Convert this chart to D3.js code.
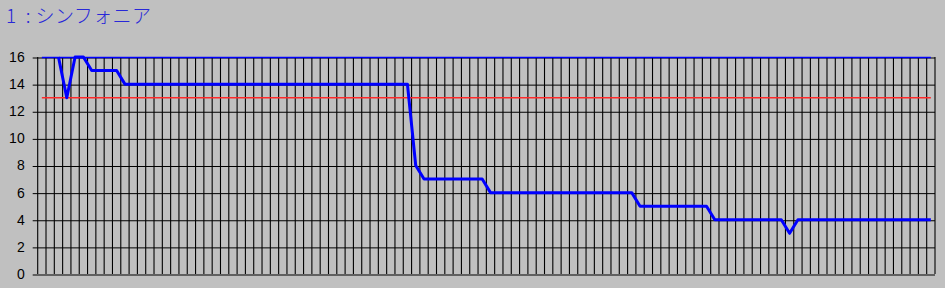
<!DOCTYPE html>
<html>
<head>
<meta charset="utf-8">
<script src="https://cdn.jsdelivr.net/npm/d3@7"></script>
<style>
  html, body { margin: 0; padding: 0; background: #c0c0c0; }
  #chart { width: 945px; height: 288px; }
</style>
</head>
<body>
<div id="chart"></div>
<script>
const width = 945;
const height = 288;

// dados
const title = "1 : シンフォニア";
const values = [
  null, null, 16, 13, 16, 16, 15, 15, 15, 15,
  14, 14, 14, 14, 14, 14, 14, 14, 14, 14,
  14, 14, 14, 14, 14, 14, 14, 14, 14, 14,
  14, 14, 14, 14, 14, 14, 14, 14, 14, 14,
  14, 14, 14, 14, 14, 8, 7, 7, 7, 7,
  7, 7, 7, 7, 6, 6, 6, 6, 6, 6,
  6, 6, 6, 6, 6, 6, 6, 6, 6, 6,
  6, 6, 5, 5, 5, 5, 5, 5, 5, 5,
  5, 4, 4, 4, 4, 4, 4, 4, 4, 4,
  3, 4, 4, 4, 4, 4, 4, 4, 4, 4,
  4, 4, 4, 4, 4, 4, 4, 4
];
const yTicks = [0, 2, 4, 6, 8, 10, 12, 14, 16];
const upperLine = 16;
const limitLine = 13;

const plot = { left: 37.7, right: 935, top: 57, bottom: 274 };

const svg = d3.select("#chart")
  .append("svg")
  .attr("width", width)
  .attr("height", height)
  .style("display", "block");

svg.append("rect")
  .attr("width", width)
  .attr("height", height)
  .attr("fill", "#c0c0c0");

const x = d3.scaleLinear()
  .domain([0, values.length])
  .range([plot.left, plot.right]);

const y = d3.scaleLinear()
  .domain([0, 16])
  .range([plot.bottom, plot.top]);

// título
svg.append("text")
  .attr("x", 6)
  .attr("y", 23)
  .attr("fill", "#2828d8")
  .attr("xml:space", "preserve")
  .style("white-space", "pre")
  .style("font-family", "'Noto Sans CJK JP', sans-serif")
  .style("font-weight", 300)
  .style("font-size", "19px")
  .style("letter-spacing", "0.4px")
  .text(title.replace(" : ", "  : "));

// grade vertical (uma linha por célula)
svg.append("g")
  .selectAll("line")
  .data(d3.range(values.length + 1))
  .enter()
  .append("line")
  .attr("x1", d => x(d))
  .attr("x2", d => x(d))
  .attr("y1", plot.top)
  .attr("y2", plot.bottom)
  .attr("stroke", "#000")
  .attr("stroke-width", 1.1);

// grade horizontal + eixo y
const yAxis = d3.axisLeft(y)
  .tickValues(yTicks)
  .tickSize(-(plot.right - plot.left) - 5)
  .tickSizeOuter(0)
  .tickPadding(8)
  .tickFormat(d3.format("d"));

const gy = svg.append("g")
  .attr("transform", `translate(${plot.left - 5},0)`)
  .call(yAxis);

gy.select(".domain").remove();
gy.selectAll(".tick line")
  .attr("stroke", "#000")
  .attr("transform", "translate(0,0.5)");
gy.selectAll(".tick text")
  .attr("fill", "#000")
  .style("font-family", "'Liberation Sans', Arial, sans-serif")
  .style("font-size", "14px");

const mid = i => x(i + 0.5);

// linha de referência (vermelha) e linha superior (azul)
svg.append("line")
  .attr("x1", mid(0))
  .attr("x2", mid(values.length - 1))
  .attr("y1", y(limitLine))
  .attr("y2", y(limitLine))
  .attr("stroke", "#ff2a2a")
  .attr("stroke-width", 1.6);

svg.append("line")
  .attr("x1", mid(0))
  .attr("x2", mid(values.length - 1))
  .attr("y1", y(upperLine) + 0.5)
  .attr("y2", y(upperLine) + 0.5)
  .attr("stroke", "#0000ff")
  .attr("stroke-width", 1.5);

// série
const line = d3.line()
  .defined(d => d != null)
  .x((d, i) => mid(i))
  .y(d => y(d));

svg.append("path")
  .datum(values)
  .attr("d", line)
  .attr("fill", "none")
  .attr("stroke", "#0000ff")
  .attr("stroke-width", 3)
  .attr("stroke-linejoin", "round");
</script>
</body>
</html>
